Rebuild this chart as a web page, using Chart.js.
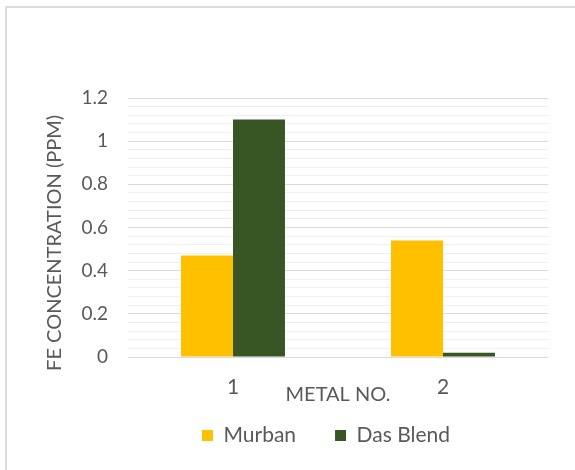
<!DOCTYPE html>
<html>
<head>
<meta charset="utf-8">
<script src="https://cdn.jsdelivr.net/npm/chart.js@4/dist/chart.umd.min.js"></script>
<style>
  html, body { margin: 0; padding: 0; background: #ffffff; }
  #wrap { position: relative; width: 575px; height: 470px; overflow: hidden; }
  #frame { position: absolute; left: 5px; top: 6px; width: 600px; height: 500px;
           border-left: 2px solid #dcdcdc; border-top: 2px solid #dcdcdc; }
  #c { position: absolute; left: 0; top: 0; }
</style>
</head>
<body>
<div id="wrap">
  <div id="frame"></div>
  <canvas id="c" width="575" height="470"></canvas>
</div>
<script>
// Fe concentration per metal sample, two crude oils
const categories = ['1', '2'];
const murban = [0.47, 0.54];
const dasBlend = [1.1, 0.02];
const seriesNames = ['Murban', 'Das Blend'];
const yMax = 1.2;
const yMajorStep = 0.2;
const yMinorStep = 0.04;

const textColor = '#595959';
const family = 'Lato, "Open Sans", sans-serif';

const isMajor = v => Math.abs(v / yMajorStep - Math.round(v / yMajorStep)) < 1e-6;

// Pull the legend row up under the axis title and slightly left
const legendNudge = {
  id: 'legendNudge',
  afterLayout(chart) {
    const l = chart.legend;
    if (!l) return;
    l.top -= 13; l.bottom -= 13;
    l.left -= 12; l.right -= 12;
  }
};

new Chart(document.getElementById('c'), {
  type: 'bar',
  data: {
    labels: categories,
    datasets: [
      { label: seriesNames[0], data: murban, backgroundColor: '#FFC000', borderWidth: 0 },
      { label: seriesNames[1], data: dasBlend, backgroundColor: '#375623', borderWidth: 0 }
    ]
  },
  plugins: [legendNudge],
  options: {
    responsive: false,
    animation: false,
    devicePixelRatio: 1,
    layout: { padding: { top: 98, right: 27, bottom: 1, left: 0 } },
    datasets: { bar: { categoryPercentage: 0.495, barPercentage: 1.0 } },
    plugins: {
      tooltip: { enabled: false },
      legend: {
        position: 'bottom',
        fullSize: false,
        labels: {
          boxWidth: 11,
          boxHeight: 11,
          padding: 39,
          color: textColor,
          font: { family, size: 21 }
        }
      }
    },
    scales: {
      x: {
        grid: { display: false, drawTicks: false },
        border: { display: false },
        ticks: { color: textColor, font: { family, size: 21 }, padding: 18 },
        title: {
          display: true,
          text: 'METAL NO.',
          color: textColor,
          font: { family, size: 20 },
          padding: { top: 0, bottom: -8 }
        },
        afterFit: s => { s.height = 42; }
      },
      y: {
        min: 0,
        max: yMax,
        border: { display: false },
        grid: {
          drawTicks: false,
          lineWidth: 1,
          color: ctx => (ctx.tick && isMajor(ctx.tick.value)) ? '#d9d9d9' : '#efefef'
        },
        ticks: {
          stepSize: yMinorStep,
          autoSkip: false,
          padding: 20,
          color: textColor,
          font: { family, size: 19 },
          callback: v => isMajor(v) ? String(Math.round(v * 10) / 10) : ''
        },
        title: {
          display: true,
          text: 'FE CONCENTRATION (PPM)\u00a0\u00a0\u00a0\u00a0\u00a0\u00a0',
          color: textColor,
          font: { family, size: 20 },
          padding: { top: 43, bottom: 0 }
        },
        afterFit: s => { s.width = 128; }
      }
    }
  }
});
</script>
</body>
</html>
